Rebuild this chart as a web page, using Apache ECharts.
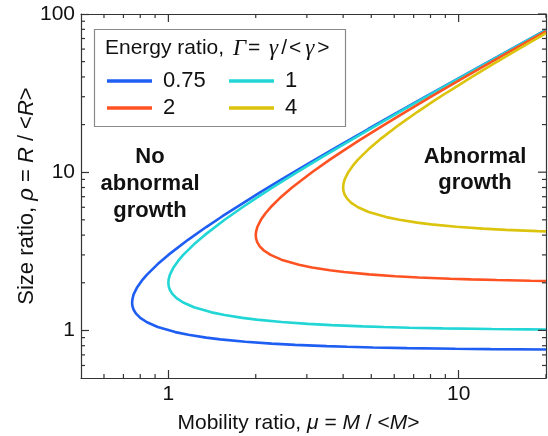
<!DOCTYPE html>
<html>
<head>
<meta charset="utf-8">
<script src="https://cdn.jsdelivr.net/npm/echarts@6/dist/echarts.min.js"></script>
<style>
  html, body { margin: 0; padding: 0; background: #fff; }
  #chart { width: 548px; height: 436px; }
</style>
</head>
<body>
<div id="chart"></div>
<script>
// Boundary curves between normal and abnormal growth, one per energy ratio.
// Each curve is traced from the lower branch (at mu = 20) round the nose and up the upper branch.
const gammaNames = ['0.75', '1', '2', '4'];
const gammaColors = ['#1f5ef2', '#22d6d6', '#ff5222', '#dcc40e'];

const mu075 = [20, 12.878, 9.754, 6.631, 5.07, 4.134, 3.511, 2.734, 2.269, 1.842, 1.510, 1.35, 1.172, 1.056, 0.919, 0.844, 0.8, 0.774, 0.759, 0.752, 0.75, 0.752, 0.759, 0.781, 0.810, 0.844, 0.919, 1.0, 1.172, 1.35, 1.531, 1.714, 2.083, 2.455, 3.013, 3.947, 4.883, 5.819, 7.692, 8.817, 11.44, 20];
const rho075 = [0.7572, 0.7613, 0.765, 0.7725, 0.78, 0.7875, 0.795, 0.81, 0.825, 0.8475, 0.8775, 0.9, 0.9375, 0.975, 1.05, 1.125, 1.2, 1.275, 1.35, 1.425, 1.5, 1.575, 1.6875, 1.875, 2.0625, 2.25, 2.625, 3.0, 3.75, 4.5, 5.25, 6.0, 7.5, 9.0, 11.25, 15, 18.75, 22.5, 30, 34.5, 45, 79.24];

const mu1 = [20, 17.17, 13.005, 8.841, 6.76, 5.5125, 4.682, 3.645, 3.025, 2.456, 2.013, 1.8, 1.5625, 1.408, 1.225, 1.125, 1.0667, 1.032, 1.0125, 1.0028, 1.0, 1.0023, 1.0125, 1.0417, 1.0804, 1.125, 1.225, 1.333, 1.5625, 1.8, 2.042, 2.286, 2.778, 3.273, 4.018, 5.263, 6.510, 7.759, 10.256, 12.755, 15.254, 17.754, 20];
const rho1 = [1.0128, 1.015, 1.02, 1.03, 1.04, 1.05, 1.06, 1.08, 1.1, 1.13, 1.17, 1.2, 1.25, 1.3, 1.4, 1.5, 1.6, 1.7, 1.8, 1.9, 2.0, 2.1, 2.25, 2.5, 2.75, 3.0, 3.5, 4.0, 5.0, 6.0, 7.0, 8.0, 10, 12, 15, 20, 25, 30, 40, 50, 60, 70, 78.99];

const mu2 = [20, 17.68, 13.52, 11.025, 9.363, 7.29, 6.05, 4.911, 4.026, 3.6, 3.125, 2.817, 2.45, 2.25, 2.133, 2.064, 2.025, 2.0056, 2.0, 2.0045, 2.025, 2.083, 2.161, 2.25, 2.45, 2.667, 3.125, 3.6, 4.083, 4.571, 5.556, 6.545, 8.036, 10.526, 13.021, 15.517, 20];
const rho2 = [2.0527, 2.06, 2.08, 2.1, 2.12, 2.16, 2.2, 2.26, 2.34, 2.4, 2.5, 2.6, 2.8, 3.0, 3.2, 3.4, 3.6, 3.8, 4.0, 4.2, 4.5, 5.0, 5.5, 6.0, 7.0, 8.0, 10, 12, 14, 16, 20, 24, 30, 40, 50, 60, 77.95];

const mu4 = [20, 18.727, 14.58, 12.1, 9.822, 8.052, 7.2, 6.25, 5.633, 4.9, 4.5, 4.267, 4.129, 4.05, 4.011, 4.0, 4.009, 4.05, 4.167, 4.321, 4.5, 4.9, 5.333, 6.25, 7.2, 8.167, 9.143, 11.111, 13.091, 16.071, 20];
const rho4 = [4.2229, 4.24, 4.32, 4.4, 4.52, 4.68, 4.8, 5.0, 5.2, 5.6, 6.0, 6.4, 6.8, 7.2, 7.6, 8.0, 8.4, 9.0, 10, 11, 12, 14, 16, 20, 24, 28, 32, 40, 48, 60, 75.78];

const muSets = [mu075, mu1, mu2, mu4];
const rhoSets = [rho075, rho1, rho2, rho4];

// Axis ranges and tick positions
const xRange = [0.5, 20];
const yRange = [0.5, 100];
const xMajorTicks = [1, 10];
const xMinorTicks = [0.6, 0.7, 0.8, 0.9, 2, 3, 4, 5, 6, 7, 8, 9, 20];
const yMajorTicks = [1, 10, 100];
const yMinorTicks = [0.6, 0.7, 0.8, 0.9, 2, 3, 4, 5, 6, 7, 8, 9, 20, 30, 40, 50, 60, 70, 80, 90];

const FONT = '"Liberation Sans", Arial, sans-serif';
const SERIF = '"Liberation Serif", "Times New Roman", serif';
const AXIS_COLOR = '#333';
const TICK_W = 1.2;

function logAxis(kind, extra) {
  return Object.assign({
    type: 'log',
    logBase: 10,
    min: kind === 'x' ? xRange[0] : yRange[0],
    max: kind === 'x' ? xRange[1] : yRange[1],
    axisLine: { show: true, lineStyle: { color: AXIS_COLOR, width: TICK_W } },
    axisTick: { show: false },
    axisLabel: { show: false },
    splitLine: { show: false },
    minorTick: { show: false },
    minorSplitLine: { show: false }
  }, extra);
}

const xAxes = [
  logAxis('x', {
    position: 'bottom',
    axisTick: { show: true, inside: true, length: 8, customValues: xMajorTicks, lineStyle: { color: AXIS_COLOR, width: TICK_W } },
    axisLabel: { show: true, customValues: xMajorTicks, fontSize: 21, color: '#111', fontFamily: FONT, margin: 6 },
    name: 'Mobility ratio, {i|μ} = {i|M} / <{i|M}>',
    nameLocation: 'middle',
    nameGap: 35,
    nameMoveOverlap: false,
    nameTextStyle: {
      fontSize: 21, color: '#111', fontFamily: FONT, padding: [0, 30, 0, 0],
      rich: { i: { fontSize: 21, fontStyle: 'italic', fontFamily: FONT, color: '#111' } }
    }
  }),
  logAxis('x', { position: 'top' })
];

const yAxes = [
  logAxis('y', {
    position: 'left',
    axisTick: { show: true, inside: true, length: 8, customValues: yMajorTicks, lineStyle: { color: AXIS_COLOR, width: TICK_W } },
    axisLabel: { show: true, customValues: yMajorTicks, fontSize: 21, color: '#111', fontFamily: FONT, margin: 6 },
    name: 'Size ratio, {i|ρ} = {i|R} / <{i|R}>',
    nameLocation: 'middle',
    nameGap: 43,
    nameMoveOverlap: false,
    nameTextStyle: {
      fontSize: 22, color: '#111', fontFamily: FONT,
      rich: { i: { fontSize: 22, fontStyle: 'italic', fontFamily: FONT, color: '#111' } }
    }
  }),
  logAxis('y', { position: 'right' })
];

// Inward tick marks drawn through the axis scales.
// kind 'x': ticks on bottom (and top) edges; kind 'y': ticks on left (and right) edges.
function tickSeries(kind, values, len, sides) {
  return {
    type: 'custom',
    xAxisIndex: 0,
    yAxisIndex: 0,
    silent: true,
    clip: false,
    z: 4,
    data: values.map(v => (kind === 'x' ? [v, yRange[0]] : [xRange[0], v])),
    renderItem: function (params, api) {
      const children = [];
      const style = { stroke: AXIS_COLOR, lineWidth: TICK_W };
      if (kind === 'x') {
        const v = api.value(0);
        const b = api.coord([v, yRange[0]]);
        const t = api.coord([v, yRange[1]]);
        if (sides !== 'farOnly') {
          children.push({ type: 'line', shape: { x1: b[0], y1: b[1], x2: b[0], y2: b[1] - len }, style: style });
        }
        children.push({ type: 'line', shape: { x1: t[0], y1: t[1], x2: t[0], y2: t[1] + len }, style: style });
      } else {
        const v = api.value(1);
        const l = api.coord([xRange[0], v]);
        const r = api.coord([xRange[1], v]);
        if (sides !== 'farOnly') {
          children.push({ type: 'line', shape: { x1: l[0], y1: l[1], x2: l[0] + len, y2: l[1] }, style: style });
        }
        children.push({ type: 'line', shape: { x1: r[0], y1: r[1], x2: r[0] - len, y2: r[1] }, style: style });
      }
      return { type: 'group', children: children };
    }
  };
}

const curveSeries = gammaNames.map((name, k) => ({
  name: name,
  type: 'line',
  xAxisIndex: 0,
  yAxisIndex: 0,
  data: muSets[k].map((m, j) => [m, rhoSets[k][j]]),
  showSymbol: false,
  symbol: 'none',
  smooth: false,
  clip: true,
  lineStyle: { color: gammaColors[k], width: 2.6 },
  itemStyle: { color: gammaColors[k] },
  z: 3
}));

const legendCommon = {
  orient: 'vertical',
  top: 70,
  padding: 0,
  itemWidth: 45,
  itemHeight: 3.5,
  itemGap: 5,
  icon: 'rect',
  selectedMode: false,
  textStyle: { fontSize: 22, lineHeight: 22, color: '#111', fontFamily: FONT, padding: [0, 0, 0, 6] },
  z: 10
};

const option = {
  backgroundColor: '#fff',
  animation: false,
  grid: { left: 81, right: 2, top: 14, bottom: 58, outerBoundsMode: 'none', containLabel: false },
  xAxis: xAxes,
  yAxis: yAxes,
  legend: [
    Object.assign({}, legendCommon, { left: 107, data: ['0.75', '2'] }),
    Object.assign({}, legendCommon, { left: 229, data: ['1', '4'] })
  ],
  graphic: [
    {
      type: 'rect',
      z: 5,
      shape: { x: 94.5, y: 29.5, width: 251, height: 97 },
      style: { fill: '#fff', stroke: '#8a8a8a', lineWidth: 1.2 }
    },
    {
      type: 'text',
      z: 6,
      left: 105,
      top: 37,
      style: {
        text: 'Energy ratio, {g|Γ}= {g|γ}{s|/}{s|<}{g|γ}{s|>}',
        fontSize: 21,
        fontFamily: FONT,
        fill: '#111',
        rich: {
          g: { fontSize: 23, fontStyle: 'italic', fontFamily: SERIF, fill: '#111', padding: [0, 2, 0, 3] },
          s: { fontSize: 21, fontFamily: FONT, fill: '#111', padding: [0, 1, 0, 1] }
        }
      }
    },
    {
      type: 'text',
      z: 6,
      x: 150,
      y: 184,
      style: {
        text: 'No\nabnormal\ngrowth',
        align: 'center',
        verticalAlign: 'middle',
        fontSize: 22,
        fontWeight: 'bold',
        lineHeight: 27,
        fontFamily: FONT,
        fill: '#111'
      }
    },
    {
      type: 'text',
      z: 6,
      x: 475,
      y: 170,
      style: {
        text: 'Abnormal\ngrowth',
        align: 'center',
        verticalAlign: 'middle',
        fontSize: 22,
        fontWeight: 'bold',
        lineHeight: 26,
        fontFamily: FONT,
        fill: '#111'
      }
    }
  ],
  series: curveSeries.concat([
    tickSeries('x', xMinorTicks, 4, 'both'),
    tickSeries('x', xMajorTicks, 8, 'farOnly'),
    tickSeries('y', yMinorTicks, 4, 'both'),
    tickSeries('y', yMajorTicks, 8, 'farOnly')
  ])
};

const chart = echarts.init(document.getElementById('chart'), null, { renderer: 'canvas' });
chart.setOption(option);
</script>
</body>
</html>
